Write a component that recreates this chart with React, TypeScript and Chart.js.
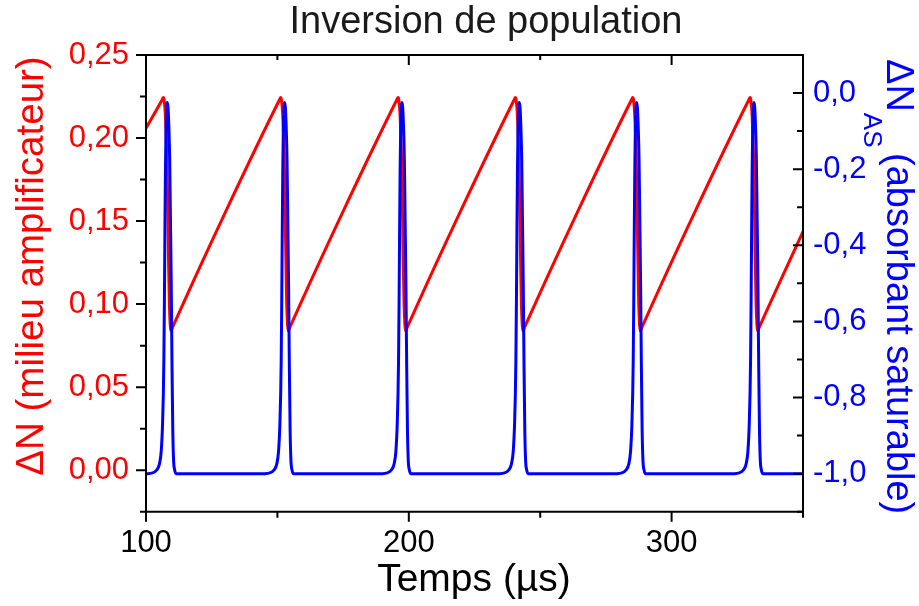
import React, { useEffect, useRef } from 'react';
import { Chart, registerables } from 'chart.js';

Chart.register(...registerables);

// ---------- DATA ----------
const chartTitle = 'Inversion de population';
const xTitle = 'Temps (µs)';
const leftTitle = 'ΔN (milieu amplificateur)';
const rightTitleMain = 'ΔN';
const rightTitleSub = 'AS';
const rightTitleRest = ' (absorbant saturable)';

const xTicks = [100, 200, 300];
const xMinorTicks = [150, 250, 350];
const leftTicks = [0, 0.05, 0.1, 0.15, 0.2, 0.25];
const leftMinorTicks = [-0.025, 0.025, 0.075, 0.125, 0.175, 0.225];
const rightTicks = [0, -0.2, -0.4, -0.6, -0.8, -1.0];
const rightMinorTicks = [0.1, -0.1, -0.3, -0.5, -0.7, -0.9, -1.1];

// Red: ΔN (milieu amplificateur), time in µs
const redTimes = [
  100,
  106.2, 106.6, 106.9, 107.4, 107.9, 108.3, 108.6, 108.9, 109.2, 109.5, 110.1, 130.4,
  150.85, 151.25, 151.55, 152.05, 152.55, 152.95, 153.25, 153.55, 153.85, 154.15, 154.75, 175.05,
  195.5, 195.9, 196.2, 196.7, 197.2, 197.6, 197.9, 198.2, 198.5, 198.8, 199.4, 219.7,
  240.15, 240.55, 240.85, 241.35, 241.85, 242.25, 242.55, 242.85, 243.15, 243.45, 244.05, 264.35,
  284.8, 285.2, 285.5, 286.0, 286.5, 286.9, 287.2, 287.5, 287.8, 288.1, 288.7, 309.0,
  329.45, 329.85, 330.15, 330.65, 331.15, 331.55, 331.85, 332.15, 332.45, 332.75, 333.35,
  350,
];
const redValues = [
  0.2059,
  0.2232, 0.2244, 0.223, 0.213, 0.19, 0.155, 0.125, 0.1, 0.088, 0.0838, 0.086, 0.156,
  0.2232, 0.2244, 0.223, 0.213, 0.19, 0.155, 0.125, 0.1, 0.088, 0.0838, 0.086, 0.156,
  0.2232, 0.2244, 0.223, 0.213, 0.19, 0.155, 0.125, 0.1, 0.088, 0.0838, 0.086, 0.156,
  0.2232, 0.2244, 0.223, 0.213, 0.19, 0.155, 0.125, 0.1, 0.088, 0.0838, 0.086, 0.156,
  0.2232, 0.2244, 0.223, 0.213, 0.19, 0.155, 0.125, 0.1, 0.088, 0.0838, 0.086, 0.156,
  0.2232, 0.2244, 0.223, 0.213, 0.19, 0.155, 0.125, 0.1, 0.088, 0.0838, 0.086,
  0.1436,
];

// Blue: ΔN_AS (absorbant saturable)
const blueTimes = [
  100,
  100.6, 104.1, 105.1, 105.8, 106.3, 106.6, 106.8, 107.0, 107.2, 107.4, 107.6, 107.8, 108.1, 108.4, 108.7, 109.0, 109.3, 109.6, 109.9, 110.2, 110.5, 110.9, 111.4,
  145.25, 148.75, 149.75, 150.45, 150.95, 151.25, 151.45, 151.65, 151.85, 152.05, 152.25, 152.45, 152.75, 153.05, 153.35, 153.65, 153.95, 154.25, 154.55, 154.85, 155.15, 155.55, 156.05,
  189.9, 193.4, 194.4, 195.1, 195.6, 195.9, 196.1, 196.3, 196.5, 196.7, 196.9, 197.1, 197.4, 197.7, 198.0, 198.3, 198.6, 198.9, 199.2, 199.5, 199.8, 200.2, 200.7,
  234.55, 238.05, 239.05, 239.75, 240.25, 240.55, 240.75, 240.95, 241.15, 241.35, 241.55, 241.75, 242.05, 242.35, 242.65, 242.95, 243.25, 243.55, 243.85, 244.15, 244.45, 244.85, 245.35,
  279.2, 282.7, 283.7, 284.4, 284.9, 285.2, 285.4, 285.6, 285.8, 286.0, 286.2, 286.4, 286.7, 287.0, 287.3, 287.6, 287.9, 288.2, 288.5, 288.8, 289.1, 289.5, 290.0,
  323.85, 327.35, 328.35, 329.05, 329.55, 329.85, 330.05, 330.25, 330.45, 330.65, 330.85, 331.05, 331.35, 331.65, 331.95, 332.25, 332.55, 332.85, 333.15, 333.45, 333.75, 334.15, 334.65,
  350,
];
const blueValues = [
  -1.0,
  -1.0, -0.99, -0.975, -0.94, -0.87, -0.79, -0.7, -0.55, -0.36, -0.2, -0.1, -0.05, -0.025, -0.04, -0.09, -0.17, -0.33, -0.5, -0.72, -0.89, -0.965, -0.99, -1.0,
  -1.0, -0.99, -0.975, -0.94, -0.87, -0.79, -0.7, -0.55, -0.36, -0.2, -0.1, -0.05, -0.025, -0.04, -0.09, -0.17, -0.33, -0.5, -0.72, -0.89, -0.965, -0.99, -1.0,
  -1.0, -0.99, -0.975, -0.94, -0.87, -0.79, -0.7, -0.55, -0.36, -0.2, -0.1, -0.05, -0.025, -0.04, -0.09, -0.17, -0.33, -0.5, -0.72, -0.89, -0.965, -0.99, -1.0,
  -1.0, -0.99, -0.975, -0.94, -0.87, -0.79, -0.7, -0.55, -0.36, -0.2, -0.1, -0.05, -0.025, -0.04, -0.09, -0.17, -0.33, -0.5, -0.72, -0.89, -0.965, -0.99, -1.0,
  -1.0, -0.99, -0.975, -0.94, -0.87, -0.79, -0.7, -0.55, -0.36, -0.2, -0.1, -0.05, -0.025, -0.04, -0.09, -0.17, -0.33, -0.5, -0.72, -0.89, -0.965, -0.99, -1.0,
  -1.0, -0.99, -0.975, -0.94, -0.87, -0.79, -0.7, -0.55, -0.36, -0.2, -0.1, -0.05, -0.025, -0.04, -0.09, -0.17, -0.33, -0.5, -0.72, -0.89, -0.965, -0.99, -1.0,
  -1.0,
];

// ---------- STYLE ----------
const FONT = '"Liberation Sans", Arial, Helvetica, sans-serif';
const RED = '#ff0000';
const BLUE = '#0000ff';
const W = 919;
const H = 606;

const fmtComma = (v: number, d: number) => v.toFixed(d).replace('.', ',').replace(/^-0,0+$/, '0,0');

const decorPlugin = {
  id: 'decor',
  afterDraw(chart: any) {
    const ctx = chart.ctx;
    const { left, right, top, bottom } = chart.chartArea;
    const xs = chart.scales.x;
    const yl = chart.scales.y;
    const yr = chart.scales.y2;
    ctx.save();
    ctx.strokeStyle = '#000';
    ctx.lineWidth = 2;
    ctx.beginPath();
    ctx.rect(left, top, right - left, bottom - top);
    ctx.stroke();

    ctx.beginPath();
    const seg = (x1: number, y1: number, x2: number, y2: number) => {
      ctx.moveTo(x1, y1);
      ctx.lineTo(x2, y2);
    };
    // bottom (outward) and top (inward)
    xTicks.forEach((v) => {
      const p = xs.getPixelForValue(v);
      seg(p, bottom, p, bottom + 10);
      seg(p, top, p, top + 10);
    });
    xMinorTicks.forEach((v) => {
      const p = xs.getPixelForValue(v);
      seg(p, bottom, p, bottom + 6);
      seg(p, top, p, top + 5);
    });
    // left (outward)
    leftTicks.forEach((v) => {
      const p = yl.getPixelForValue(v);
      seg(left - 10, p, left, p);
    });
    leftMinorTicks.forEach((v) => {
      const p = yl.getPixelForValue(v);
      seg(left - 6, p, left, p);
    });
    // right (inward)
    rightTicks.forEach((v) => {
      const p = yr.getPixelForValue(v);
      seg(right - 10, p, right, p);
    });
    rightMinorTicks.forEach((v) => {
      const p = yr.getPixelForValue(v);
      seg(right - 6, p, right, p);
    });
    ctx.stroke();

    // Titles
    ctx.textBaseline = 'alphabetic';
    ctx.fillStyle = '#1a1a1a';
    ctx.font = `38px ${FONT}`;
    ctx.textAlign = 'center';
    ctx.fillText(chartTitle, 486, 33);

    ctx.fillStyle = '#000';
    ctx.font = `39px ${FONT}`;
    ctx.fillText(xTitle, 474, 591);

    // left title
    ctx.save();
    ctx.translate(43, 266);
    ctx.rotate(-Math.PI / 2);
    ctx.fillStyle = RED;
    ctx.textAlign = 'center';
    ctx.font = `38.5px ${FONT}`;
    ctx.fillText(leftTitle, 0, 0);
    ctx.restore();

    // right title
    ctx.save();
    ctx.translate(887, 59);
    ctx.rotate(Math.PI / 2);
    ctx.fillStyle = BLUE;
    ctx.textAlign = 'left';
    ctx.font = `38px ${FONT}`;
    ctx.fillText(rightTitleMain, 0, 0);
    let off = ctx.measureText(rightTitleMain).width + 1;
    ctx.font = `26px ${FONT}`;
    ctx.fillText(rightTitleSub, off, 23);
    off += ctx.measureText(rightTitleSub).width - 5;
    ctx.font = `38px ${FONT}`;
    ctx.fillText(rightTitleRest, off, 0);
    ctx.restore();

    ctx.restore();
  },
};

export default function App() {
  const ref = useRef<HTMLCanvasElement | null>(null);

  useEffect(() => {
    if (!ref.current) return;
    const chart = new Chart(ref.current, {
      type: 'line',
      data: {
        datasets: [
          {
            label: leftTitle,
            data: redTimes.map((t, i) => ({ x: t, y: redValues[i] })),
            yAxisID: 'y',
            borderColor: RED,
            backgroundColor: RED,
            borderWidth: 3,
            pointRadius: 0,
            cubicInterpolationMode: 'monotone',
            order: 1,
          },
          {
            label: rightTitleMain + rightTitleSub,
            data: blueTimes.map((t, i) => ({ x: t, y: blueValues[i] })),
            yAxisID: 'y2',
            borderColor: BLUE,
            backgroundColor: BLUE,
            borderWidth: 3,
            pointRadius: 0,
            cubicInterpolationMode: 'monotone',
            order: 0,
          },
        ],
      },
      options: {
        responsive: false,
        animation: false,
        devicePixelRatio: 1,
        layout: { padding: { top: 55, left: 0, right: 0, bottom: 0 } },
        plugins: {
          legend: { display: false },
          tooltip: { enabled: false },
          title: { display: false },
        },
        scales: {
          x: {
            type: 'linear',
            min: 100,
            max: 350,
            grid: { display: false, drawTicks: false },
            border: { display: false },
            afterBuildTicks: (s: any) => {
              s.ticks = xTicks.map((v) => ({ value: v }));
            },
            afterFit: (s: any) => {
              s.height = H - 511.7;
            },
            ticks: {
              autoSkip: false,
              maxRotation: 0,
              padding: 13,
              color: '#000',
              font: { family: FONT, size: 31 },
              callback: (v: any) => String(v),
            },
          },
          y: {
            type: 'linear',
            position: 'left',
            min: -0.025,
            max: 0.25,
            grid: { display: false, drawTicks: false },
            border: { display: false },
            afterBuildTicks: (s: any) => {
              s.ticks = leftTicks.map((v) => ({ value: v }));
            },
            afterFit: (s: any) => {
              s.width = 146;
            },
            ticks: {
              autoSkip: false,
              padding: 17,
              color: RED,
              font: { family: FONT, size: 31 },
              callback: (v: any) => fmtComma(Number(v), 2),
            },
          },
          y2: {
            type: 'linear',
            position: 'right',
            min: -1.1,
            max: 0.1,
            grid: { display: false, drawTicks: false },
            border: { display: false },
            afterBuildTicks: (s: any) => {
              s.ticks = rightTicks.map((v) => ({ value: v }));
            },
            afterFit: (s: any) => {
              s.width = W - 803;
            },
            ticks: {
              autoSkip: false,
              padding: 10,
              color: BLUE,
              font: { family: FONT, size: 31 },
              callback: (v: any) => fmtComma(Number(v), 1),
            },
          },
        },
      } as any,
      plugins: [decorPlugin],
    });
    return () => chart.destroy();
  }, []);

  return (
    <div style={{ position: 'absolute', left: 0, top: 0, width: W, height: H, background: '#fff' }}>
      <canvas ref={ref} width={W} height={H} style={{ display: 'block' }} />
    </div>
  );
}
